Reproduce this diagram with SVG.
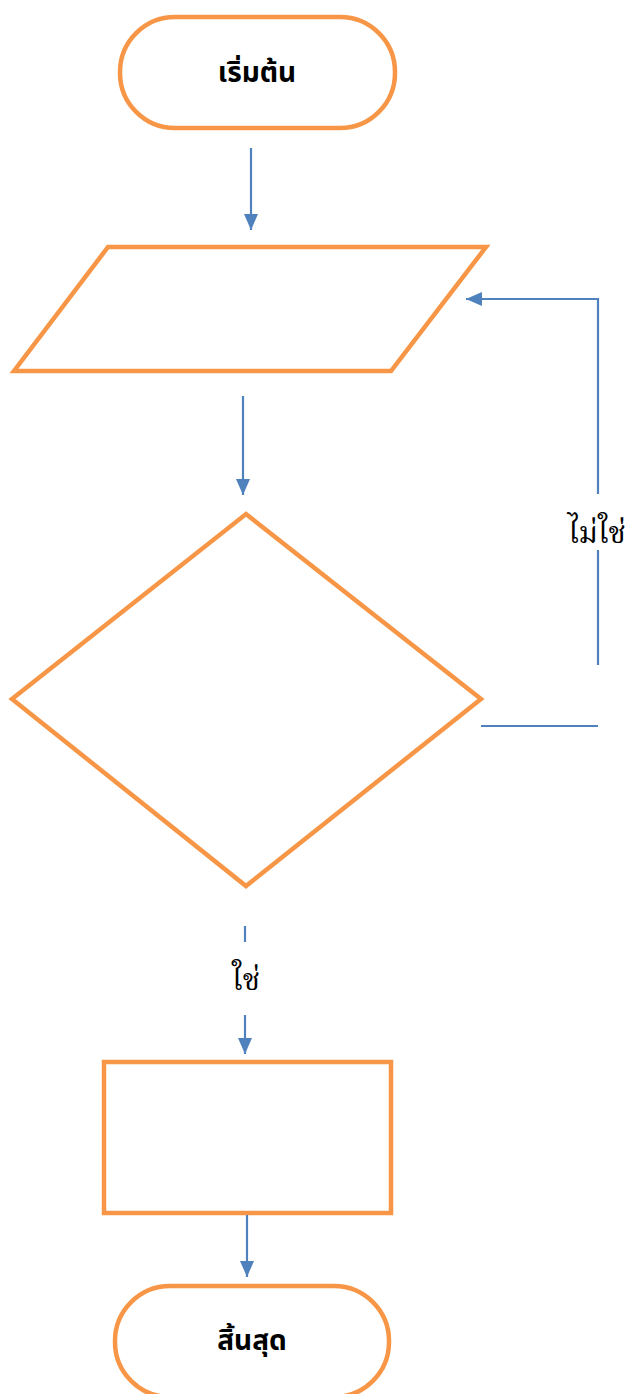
<svg xmlns="http://www.w3.org/2000/svg" width="631" height="1394" viewBox="0 0 631 1394">
<style>
.shape{fill:#ffffff;stroke:#F79646;stroke-width:4.5;stroke-linejoin:miter}
.conn{fill:none;stroke:#4F81BD;stroke-width:2.2}
.t{font-family:"Noto Sans Thai","Noto Sans","DejaVu Sans",sans-serif;font-weight:bold;font-size:28px;fill:#000;text-anchor:middle}
.lbl{font-family:"Noto Serif Thai","Liberation Serif","DejaVu Serif",serif;font-size:30px;fill:#000;text-anchor:middle}
</style>
<defs>
<marker id="ah" markerWidth="16" markerHeight="14" viewBox="0 0 10 10" refX="10" refY="5" orient="auto" markerUnits="userSpaceOnUse" preserveAspectRatio="none">
<path d="M0,0 L10,5 L0,10 z" fill="#4F81BD"/>
</marker>
</defs>
<rect width="631" height="1394" fill="#ffffff"/>
<g id="start">
<rect class="shape" x="120" y="17" width="275" height="111" rx="55" ry="55"/>
<text class="t" x="257" y="82">เริ่มต้น</text>
</g>
<g id="input">
<polygon class="shape" points="108,247 486,247 391,371 14,371"/>
</g>
<g id="decision">
<polygon class="shape" points="246,514 481,699 246,886 12,699"/>
</g>
<g id="process">
<rect class="shape" x="104" y="1062" width="287" height="151"/>
</g>
<g id="end">
<rect class="shape" x="115" y="1286" width="274" height="111" rx="55" ry="55"/>
<text class="t" x="252" y="1350">สิ้นสุด</text>
</g>
<g id="connectors">
<path class="conn" d="M251,148 L251,230" marker-end="url(#ah)"/>
<path class="conn" d="M243,396 L243,495" marker-end="url(#ah)"/>
<path class="conn" d="M481,726 L598,726"/>
<path class="conn" d="M598,665 L598,550"/>
<path class="conn" d="M598,494 L598,299 L466,299" marker-end="url(#ah)"/>
<text class="lbl" x="597" y="543">ไม่ใช่</text>
<path class="conn" d="M245,926 L245,942"/>
<text class="lbl" x="246" y="990">ใช่</text>
<path class="conn" d="M245,1015 L245,1054" marker-end="url(#ah)"/>
<path class="conn" d="M247,1215 L247,1277" marker-end="url(#ah)"/>
</g>
</svg>
